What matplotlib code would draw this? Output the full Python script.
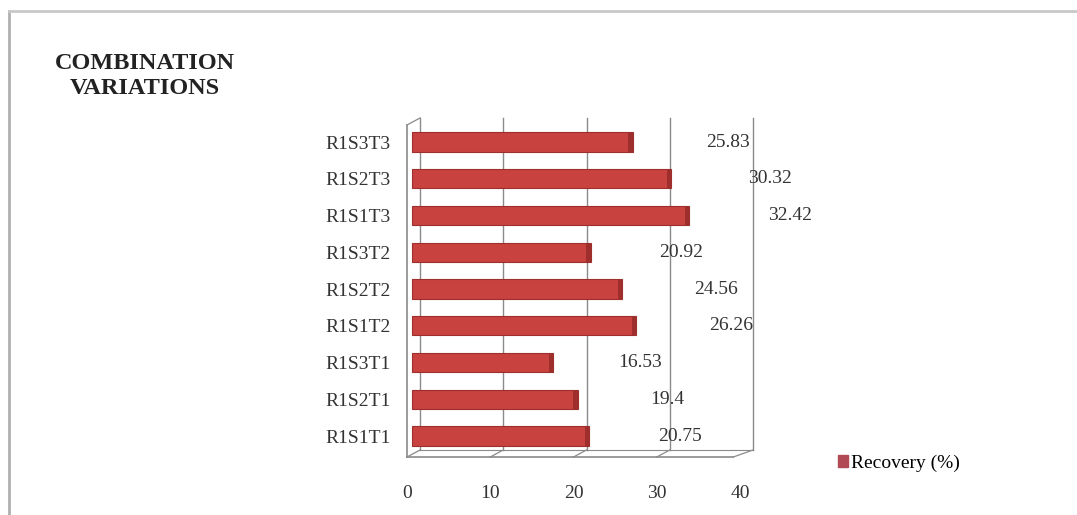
import matplotlib.pyplot as plt
from matplotlib.lines import Line2D
from matplotlib.patches import Patch
from matplotlib.transforms import Affine2D, ScaledTranslation

categories = ["R1S1T1", "R1S2T1", "R1S3T1", "R1S1T2", "R1S2T2",
              "R1S3T2", "R1S1T3", "R1S2T3", "R1S3T3"]
recovery = [20.75, 19.4, 16.53, 26.26, 24.56, 20.92, 32.42, 30.32, 25.83]
xticks = [0, 10, 20, 30, 40]

SERIF = "Liberation Serif"
BAR = "#c8433f"
BAR_DARK = "#9e2f2c"
GRID = "#8a8a8a"

W, H = 1077, 515
fig = plt.figure(figsize=(W / 100, H / 100), dpi=100)

# front plot area in pixels: x 407..740, y 125..457
ax = fig.add_axes([407 / W, 1 - 457 / H, 333 / W, 332 / H])
ylo, yhi = -0.571, 8.463
ax.set_xlim(0, 40)
ax.set_ylim(ylo, yhi)
for s in ax.spines.values():
    s.set_visible(False)

# pseudo 3d: back wall shifted right/up, bars a bit deeper and wider (perspective)
back = ax.transData + ScaledTranslation(13 / 100, 7 / 100, fig.dpi_scale_trans)
bar_tr = ax.transData + Affine2D().translate(-407, 0).scale(1.026, 1).translate(412, 0)

for x in xticks:
    ax.plot([x, x], [ylo, yhi], color=GRID, lw=1.0, transform=back, clip_on=False)
ax.plot([0, 40], [ylo, ylo], color=GRID, lw=0.8, transform=back, clip_on=False)

# front frame
ax.plot([0, 0], [ylo, yhi], color=GRID, lw=1.2, clip_on=False)
ax.plot([0, 39.2], [ylo, ylo], color=GRID, lw=1.2, clip_on=False)
for xa, xb, yy in [(0, 0, ylo), (10, 10, ylo), (20, 20, ylo), (30, 30, ylo),
                   (39.2, 40, ylo), (0, 0, yhi)]:
    x0, y0 = ax.transData.transform((xa, yy))
    x1, y1 = back.transform((xb, yy))
    fig.add_artist(Line2D([x0 / W, x1 / W], [y0 / H, y1 / H], color=GRID, lw=0.9))

ypos = list(range(len(categories)))
ax.barh(ypos, recovery, height=0.52, color=BAR, edgecolor=BAR_DARK,
        linewidth=0.8, transform=bar_tr, zorder=3)
# darker end cap of each bar
ax.barh(ypos, [0.5] * len(recovery), left=[v - 0.5 for v in recovery],
        height=0.52, color=BAR_DARK, linewidth=0, transform=bar_tr, zorder=4)

# data labels (placed where the original chart put them)
for y, v in zip(ypos, recovery):
    ax.text(9.24 + 1.133 * v, y, f"{v:g}", ha="center", va="center",
            family=SERIF, fontsize=14, color="#333333", clip_on=False)

ax.set_yticks(ypos)
ax.set_yticklabels(categories, family=SERIF, fontsize=14, color="#333333")
ax.set_xticks(xticks)
ax.set_xticklabels([str(t) for t in xticks], family=SERIF, fontsize=14, color="#333333")
ax.tick_params(axis="y", length=0, pad=12)
ax.tick_params(axis="x", length=0, pad=20)

fig.text(145 / W, 1 - 76 / H, "COMBINATION\nVARIATIONS", ha="center", va="center",
         family=SERIF, fontsize=17.5, fontweight="bold", color="#222222",
         linespacing=1.25)

fig.legend(handles=[Patch(color="#b04a55", label="Recovery (%)")],
           loc="center left", bbox_to_anchor=(828 / W, 1 - 463 / H),
           frameon=False, handlelength=0.55, handleheight=0.55, handletextpad=0.15,
           borderpad=0, prop={"family": SERIF, "size": 14})

# outer chart border
fig.add_artist(Line2D([9 / W, 9 / W], [0, 1 - 11 / H], color="#b0b0b0", lw=2))
fig.add_artist(Line2D([9 / W, 1], [1 - 11 / H, 1 - 11 / H], color="#c8c8c8", lw=2))

fig.savefig("out.png", dpi=100)
